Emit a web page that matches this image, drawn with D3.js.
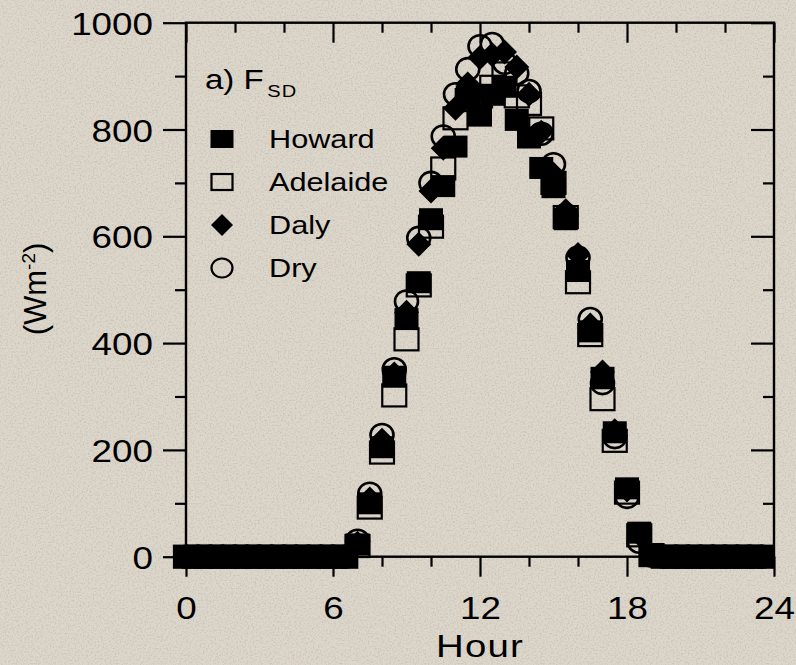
<!DOCTYPE html>
<html>
<head>
<meta charset="utf-8">
<script src="https://cdn.jsdelivr.net/npm/d3@7/dist/d3.min.js"></script>
<style>
  html, body { margin: 0; padding: 0; background: #ddd6cb; }
  svg { display: block; }
  text { font-family: "Liberation Sans", Arial, sans-serif; fill: #000; }
</style>
</head>
<body>
<svg id="chart" width="796" height="665"></svg>
<script>
// Half-hourly diurnal cycle of downward shortwave radiation at four sites
const hours = [0, 0.5, 1, 1.5, 2, 2.5, 3, 3.5, 4, 4.5, 5, 5.5, 6, 6.5, 7, 7.5,
  8, 8.5, 9, 9.5, 10, 10.5, 11, 11.5, 12, 12.5, 13, 13.5, 14, 14.5, 15, 15.5,
  16, 16.5, 17, 17.5, 18, 18.5, 19, 19.5, 20, 20.5, 21, 21.5, 22, 22.5, 23, 23.5];

const howard = [0, 0, 0, 0, 0, 0, 0, 0, 0, 0, 0, 0, 0, 0, 23, 100,
  205, 337, 445, 514, 632, 694, 768, 862, 826, 865, 880, 818, 785, 728, 692, 632,
  535, 422, 335, 233, 128, 45, 4, 0, 0, 0, 0, 0, 0, 0, 0, 0];

const adelaide = [0, 0, 0, 0, 0, 0, 0, 0, 0, 0, 0, 0, 0, 0, 20, 92,
  195, 302, 407, 508, 618, 727, 821, 855, 862, 880, 905, 862, 848, 802, 700, 636,
  514, 415, 295, 217, 120, 40, 3, 0, 0, 0, 0, 0, 0, 0, 0, 0];

const daly = [0, 0, 0, 0, 0, 0, 0, 0, 0, 0, 0, 0, 0, 0, 25, 108,
  218, 342, 458, 585, 685, 765, 840, 885, 935, 940, 945, 917, 866, 795, 716, 648,
  566, 434, 346, 236, 125, 42, 3, 0, 0, 0, 0, 0, 0, 0, 0, 0];

const dry = [0, 0, 0, 0, 0, 0, 0, 0, 0, 0, 0, 0, 0, 0, 30, 118,
  228, 351, 478, 597, 700, 787, 866, 913, 956, 960, 925, 905, 872, 792, 735, 640,
  560, 445, 325, 224, 112, 28, 2, 0, 0, 0, 0, 0, 0, 0, 0, 0];

const seriesNames = ["Howard", "Adelaide", "Daly", "Dry"];
const xMajorTicks = [0, 6, 12, 18, 24];
const xMinorTicks = [2, 4, 8, 10, 14, 16, 20, 22];
const yMajorTicks = [0, 200, 400, 600, 800, 1000];
const yMinorTicks = [100, 300, 500, 700, 900];

const svg = d3.select("#chart");
const W = 796, H = 665;
const plotL = 186, plotR = 774, plotT = 22.7, plotB = 556.7;
const SX = 1.15; // horizontal widening of the lettering

// paper-like grain behind everything
const defs = svg.append("defs");
const grain = defs.append("filter").attr("id", "grain")
  .attr("x", 0).attr("y", 0).attr("width", "100%").attr("height", "100%");
grain.append("feTurbulence").attr("type", "fractalNoise")
  .attr("baseFrequency", 0.6).attr("numOctaves", 2).attr("seed", 7).attr("result", "n");
grain.append("feColorMatrix").attr("in", "n").attr("type", "matrix")
  .attr("values", "0 0 0 0 0.35  0 0 0 0 0.32  0 0 0 0 0.28  0 0 0 -1.8 1.0");
svg.append("rect").attr("width", W).attr("height", H).attr("fill", "#ddd6cb");
svg.append("rect").attr("width", W).attr("height", H).attr("filter", "url(#grain)").attr("opacity", 0.45);

const x = d3.scaleLinear().domain([0, 24]).range([plotL, plotR]);
const y = d3.scaleLinear().domain([0, 1000]).range([plotB, plotT]);

function styleAxis(g) {
  g.select(".domain").remove();
  g.selectAll(".tick line").attr("stroke", "#000").attr("stroke-width", 2.2);
}

// left axis: outward ticks and labels
const gl = svg.append("g").attr("transform", `translate(${plotL},0)`)
  .call(d3.axisLeft(y).tickValues(yMajorTicks).tickSize(23).tickFormat(d3.format("d")));
styleAxis(gl);
gl.selectAll(".tick text")
  .attr("x", -33 / SX).attr("dy", "0.36em")
  .attr("transform", `scale(${SX},1)`)
  .style("font-size", "32px");
styleAxis(svg.append("g").attr("transform", `translate(${plotL},0)`)
  .call(d3.axisLeft(y).tickValues(yMinorTicks).tickSize(11).tickFormat("")));

// right axis: inward ticks
styleAxis(svg.append("g").attr("transform", `translate(${plotR},0)`)
  .call(d3.axisLeft(y).tickValues(yMajorTicks).tickSize(23).tickFormat("")));
styleAxis(svg.append("g").attr("transform", `translate(${plotR},0)`)
  .call(d3.axisLeft(y).tickValues(yMinorTicks).tickSize(11).tickFormat("")));

// bottom axis: outward ticks and labels
const gb = svg.append("g").attr("transform", `translate(0,${plotB})`)
  .call(d3.axisBottom(x).tickValues(xMajorTicks).tickSize(20).tickFormat(d3.format("d")));
styleAxis(gb);
gb.selectAll(".tick text")
  .attr("y", 62).attr("dy", 0)
  .attr("transform", `scale(${SX},1)`)
  .style("font-size", "32px");
styleAxis(svg.append("g").attr("transform", `translate(0,${plotB})`)
  .call(d3.axisBottom(x).tickValues(xMinorTicks).tickSize(10).tickFormat("")));

// top axis: inward ticks
styleAxis(svg.append("g").attr("transform", `translate(0,${plotT})`)
  .call(d3.axisBottom(x).tickValues(xMajorTicks).tickSize(20).tickFormat("")));
styleAxis(svg.append("g").attr("transform", `translate(0,${plotT})`)
  .call(d3.axisBottom(x).tickValues(xMinorTicks).tickSize(10).tickFormat("")));

// frame
svg.append("rect")
  .attr("x", plotL).attr("y", plotT).attr("width", plotR - plotL).attr("height", plotB - plotT)
  .attr("fill", "none").attr("stroke", "#000").attr("stroke-width", 2.4);

// axis titles
svg.append("text")
  .attr("transform", `translate(${(plotL + plotR) / 2},657) scale(1.2,1)`)
  .attr("text-anchor", "middle").style("font-size", "32px")
  .attr("letter-spacing", 1)
  .text("Hour");

const yl = svg.append("text")
  .attr("transform", "translate(46,289) rotate(-90)")
  .attr("text-anchor", "middle").style("font-size", "31px");
yl.append("tspan").text("(Wm");
yl.append("tspan").attr("dy", -11).style("font-size", "19px").text("-2");
yl.append("tspan").attr("dy", 11).text(")");

// marker painters
const SQW = 24, SQH = 22;
function square(sel, filled) {
  sel.append("rect")
    .attr("x", d => x(d.h) - SQW / 2).attr("y", d => y(d.v) - SQH / 2)
    .attr("width", SQW).attr("height", SQH)
    .attr("fill", filled ? "#000" : "none")
    .attr("stroke", "#000").attr("stroke-width", filled ? 0 : 2.2);
}
function diamond(sel) {
  sel.append("path")
    .attr("d", d => {
      const cx = x(d.h), cy = y(d.v), rx = 12.5, ry = 12.5;
      return `M${cx},${cy - ry}L${cx + rx},${cy}L${cx},${cy + ry}L${cx - rx},${cy}Z`;
    })
    .attr("fill", "#000");
}
function circle(sel) {
  sel.append("ellipse")
    .attr("cx", d => x(d.h)).attr("cy", d => y(d.v))
    .attr("rx", 11.5).attr("ry", 11)
    .attr("fill", "none").attr("stroke", "#000").attr("stroke-width", 2.6);
}

function pts(vals) { return hours.map((h, i) => ({ h, v: vals[i] })); }

const plot = svg.append("g");
// painted from back to front
circle(plot.append("g").selectAll("g").data(pts(dry)).join("g"));
square(plot.append("g").selectAll("g").data(pts(adelaide)).join("g"), false);
square(plot.append("g").selectAll("g").data(pts(howard)).join("g"), true);
diamond(plot.append("g").selectAll("g").data(pts(daly)).join("g"));

// panel title
const title = svg.append("text")
  .attr("transform", `translate(205,89) scale(1.18,1)`)
  .style("font-size", "28px");
title.append("tspan").text("a) F");
title.append("tspan").attr("dy", 8).attr("dx", 3).style("font-size", "17px")
  .attr("letter-spacing", 1).text("SD");

// legend
const legY = [139, 182, 225, 268];
const legend = svg.append("g");
seriesNames.forEach((name, i) => {
  const cy = legY[i], cx = 222;
  const g = legend.append("g");
  if (i === 0) {
    g.append("rect").attr("x", cx - 11.5).attr("y", cy - 9).attr("width", 23).attr("height", 18).attr("fill", "#000");
  } else if (i === 1) {
    g.append("rect").attr("x", cx - 10.5).attr("y", cy - 8).attr("width", 21).attr("height", 16)
      .attr("fill", "none").attr("stroke", "#000").attr("stroke-width", 2.2);
  } else if (i === 2) {
    g.append("path").attr("d", `M${cx},${cy - 11}L${cx + 11},${cy}L${cx},${cy + 11}L${cx - 11},${cy}Z`).attr("fill", "#000");
  } else {
    g.append("ellipse").attr("cx", cx).attr("cy", cy).attr("rx", 10.5).attr("ry", 9.5)
      .attr("fill", "none").attr("stroke", "#000").attr("stroke-width", 2.2);
  }
  g.append("text")
    .attr("transform", `translate(269,${cy + 9}) scale(1.18,1)`)
    .style("font-size", "26px").text(name);
});
</script>
</body>
</html>
